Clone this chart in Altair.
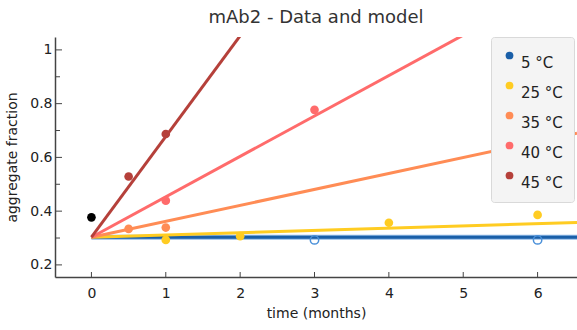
import altair as alt
import pandas as pd

FONT = "DejaVu Sans"

series = ["5 °C", "25 °C", "35 °C", "40 °C", "45 °C"]
colors = ["#1a5fa8", "#ffcc22", "#ff8c55", "#ff6b6b", "#b5403a"]

# measured points (filled)
pt_series = ["25 °C", "25 °C", "25 °C", "25 °C", "35 °C", "35 °C", "40 °C", "40 °C", "45 °C", "45 °C"]
pt_time = [1, 2, 4, 6, 0.5, 1, 1, 3, 0.5, 1]
pt_value = [0.293, 0.307, 0.357, 0.386, 0.334, 0.339, 0.439, 0.777, 0.529, 0.687]

# 5 °C points (open)
open_time = [3, 6]
open_value = [0.293, 0.293]

# initial point (black)
init_time = [0]
init_value = [0.377]

# model lines (start and end of each straight line)
model_t = [0, 6.53]
model_start = [0.303, 0.303, 0.303, 0.303, 0.303]
model_end = [0.303, 0.358, 0.69, 1.285, 2.75]

x_ticks = [0, 1, 2, 3, 4, 5, 6]
y_major = [0.2, 0.4, 0.6, 0.8, 1.0]
y_minor = [0.3, 0.5, 0.7, 0.9]

pts = pd.DataFrame({"series": pt_series, "time": pt_time, "value": pt_value})
opn = pd.DataFrame({"time": open_time, "value": open_value})
ini = pd.DataFrame({"time": init_time, "value": init_value})
rows = []
for s, a, b in zip(series, model_start, model_end):
    rows.append({"model": s, "time": model_t[0], "value": a})
    rows.append({"model": s, "time": model_t[1], "value": b})
lines = pd.DataFrame(rows)

xs = alt.Scale(domain=[-0.49, 6.53], nice=False, zero=False)
ys = alt.Scale(domain=[0.155, 1.048], nice=False, zero=False)

xax = alt.Axis(values=x_ticks, format="d", ticks=False, grid=False,
               domainColor="#444", domainWidth=1.5, labelFontSize=14,
               labelColor="#222", labelFont=FONT, labelPadding=9,
               title="time (months)", titleFontSize=14, titleFont=FONT,
               titleFontWeight="normal", titleColor="#222", titlePadding=6)
yax = alt.Axis(values=y_major, format=".1~f", ticks=False, grid=False,
               domainColor="#444", domainWidth=1.5, labelFontSize=14,
               labelColor="#222", labelFont=FONT, labelPadding=3,
               title="aggregate fraction", titleFontSize=14, titleFont=FONT,
               titleFontWeight="normal", titleColor="#222", titlePadding=10)

X = alt.X("time:Q", scale=xs, axis=xax)
Y = alt.Y("value:Q", scale=ys, axis=yax)

layers = []
layers.append(alt.Chart(lines).transform_filter(alt.datum.model == "5 °C").mark_line(
    clip=True, strokeWidth=5, color="#8fb8e6").encode(x=X, y=Y))
for s, c in zip(series, colors):
    layers.append(alt.Chart(lines).transform_filter(alt.datum.model == s).mark_line(
        clip=True, strokeWidth=3, color=c).encode(x=X, y=Y))

legend = alt.Legend(orient="none", legendX=436, legendY=0,
                    symbolType="circle", symbolSize=60,
                    labelFont=FONT, labelFontSize=15, labelColor="#222",
                    labelBaseline="top", rowPadding=7,
                    padding=11, fillColor="#f4f4f4",
                    strokeColor="#d9d9d9", cornerRadius=3,
                    labelOffset=4)

filled = alt.Chart(pts).mark_circle(size=75, opacity=1).encode(
    x=X, y=Y,
    color=alt.Color("series:N", scale=alt.Scale(domain=series, range=colors),
                    title="", legend=legend),
)
layers.append(filled)

layers.append(alt.Chart(opn).mark_point(size=70, filled=False, strokeWidth=1.5,
                                        color="#4a90d9", opacity=1).encode(x=X, y=Y))
layers.append(alt.Chart(ini).mark_circle(size=75, color="black", opacity=1).encode(x=X, y=Y))

layers.append(alt.Chart(pd.DataFrame({"time": x_ticks})).mark_rule(color="#444", strokeWidth=1).encode(
    x=X, y=alt.value(240), y2=alt.value(235)))
layers.append(alt.Chart(pd.DataFrame({"value": y_major})).mark_rule(color="#444", strokeWidth=1).encode(
    y=Y, x=alt.value(0), x2=alt.value(7)))
layers.append(alt.Chart(pd.DataFrame({"value": y_minor})).mark_rule(color="#444", strokeWidth=1).encode(
    y=Y, x=alt.value(0), x2=alt.value(5)))

chart = alt.layer(*layers).properties(
    width=522, height=240,
    background="white",
    title=alt.TitleParams("mAb2 - Data and model", fontSize=18, font=FONT,
                          fontWeight="normal", color="#333", offset=10),
    autosize=alt.AutoSizeParams(type="none"),
    padding={"left": 55, "top": 37, "right": 0, "bottom": 53},
).configure_view(stroke=None)

chart.save("out.html", embed_options={"renderer": "svg", "actions": False})
